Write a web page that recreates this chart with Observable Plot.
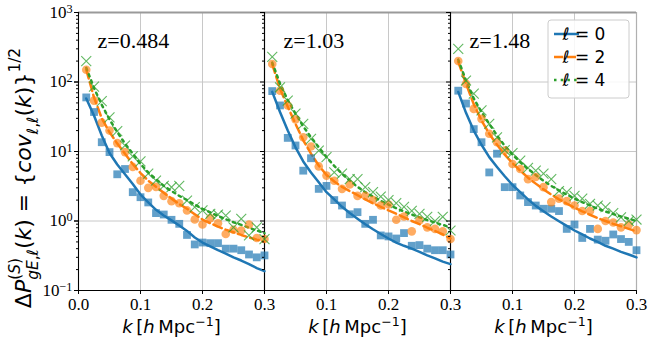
<!DOCTYPE html>
<html>
<head>
<meta charset="utf-8">
<script src="https://cdn.jsdelivr.net/npm/d3@7"></script>
<script src="https://cdn.jsdelivr.net/npm/@observablehq/plot@0.6"></script>
<style>
  body { margin: 0; background: #fff; }
  #chart { width: 654px; height: 340px; }
</style>
</head>
<body>
<div id="chart"></div>
<script>
// ---------- data ----------
const panels = ["z=0.484", "z=1.03", "z=1.48"];
const kValues = [0.0125, 0.025, 0.0375, 0.05, 0.0625, 0.075, 0.0875, 0.1, 0.1125, 0.125, 0.1375, 0.15,
                 0.1625, 0.175, 0.1875, 0.2, 0.2125, 0.225, 0.2375, 0.25, 0.2625, 0.275, 0.2875, 0.3];

// model curves (one array per panel)
const model0 = [
  [58, 33, 17, 9.5, 6.5, 4.7, 3.4, 2.4, 1.85, 1.45, 1.2, 1.02, 0.86, 0.72, 0.58, 0.49, 0.43, 0.38, 0.34, 0.30, 0.27, 0.24, 0.21, 0.19],
  [72, 37, 20, 11.5, 7.2, 5.0, 3.6, 2.6, 2.05, 1.6, 1.3, 1.08, 0.9, 0.76, 0.65, 0.56, 0.49, 0.44, 0.40, 0.36, 0.32, 0.29, 0.26, 0.24],
  [72, 36, 20, 12.5, 8.3, 6.0, 4.4, 3.3, 2.6, 2.05, 1.65, 1.38, 1.16, 0.99, 0.85, 0.73, 0.64, 0.56, 0.50, 0.44, 0.40, 0.36, 0.33, 0.30]
];
const model2 = [
  [150, 60, 30, 19, 13, 9.3, 6.6, 4.9, 3.8, 3.1, 2.55, 2.1, 1.75, 1.5, 1.25, 1.05, 0.93, 0.83, 0.75, 0.69, 0.63, 0.58, 0.54, 0.51],
  [180, 80, 44, 25, 14.5, 9.3, 6.3, 4.6, 3.7, 3.1, 2.7, 2.35, 2.05, 1.8, 1.6, 1.42, 1.27, 1.13, 1.0, 0.9, 0.8, 0.72, 0.64, 0.56],
  [195, 95, 48, 28, 18, 12.5, 9.0, 6.8, 5.3, 4.2, 3.45, 2.85, 2.4, 2.05, 1.78, 1.56, 1.38, 1.23, 1.1, 1.0, 0.91, 0.84, 0.77, 0.71]
];
const model4 = [
  [160, 82, 47, 29, 19, 13, 9.3, 6.6, 5.0, 4.0, 3.2, 2.7, 2.3, 2.0, 1.72, 1.5, 1.33, 1.18, 1.06, 0.96, 0.88, 0.80, 0.73, 0.67],
  [190, 95, 55, 35, 23, 16, 11.5, 8.3, 6.2, 4.8, 3.8, 3.1, 2.6, 2.25, 1.95, 1.72, 1.53, 1.37, 1.24, 1.13, 1.03, 0.95, 0.88, 0.81],
  [210, 105, 58, 37, 25, 17, 12, 9.0, 7.0, 5.6, 4.6, 3.8, 3.2, 2.75, 2.4, 2.1, 1.87, 1.67, 1.5, 1.37, 1.26, 1.16, 1.08, 1.0]
];

// simulation points (one array per panel)
const sim0 = [
  [60, 37, 13.6, 9.8, 4.7, 5.6, 2.6, 2.2, 1.85, 1.3, 1.24, 1.04, 0.91, 0.63, 0.46, 0.49, 0.48, 0.48, 0.40, 0.40, 0.38, 0.33, 0.30, 0.32],
  [74, 46, 15.7, 12.2, 5.3, 8.0, 2.9, 3.2, 2.0, 1.67, 1.25, 1.34, 0.91, 1.04, 0.62, 0.6, 0.56, 0.67, 0.44, 0.45, 0.40, 0.38, 0.38, 0.33],
  [75, 49, 21, 13.6, 5.0, 9.3, 3.07, 3.07, 2.33, 1.87, 1.67, 1.5, 1.5, 1.39, 0.77, 0.89, 0.57, 0.77, 0.54, 0.52, 0.64, 0.55, 0.50, 0.38]
];
const sim2 = [
  [150, 54, 26, 20, 13.2, 9.8, 6.0, 3.8, 3.0, 3.1, 2.3, 1.93, 1.8, 1.42, 1.05, 0.89, 1.10, 0.93, 0.65, 0.75, 0.73, 0.89, 0.57, 0.55],
  [182, 75, 46, 29, 16, 11.8, 6.1, 4.5, 3.8, 2.9, 3.35, 2.3, 2.3, 2.0, 1.67, 1.73, 1.04, 1.16, 0.71, 1.02, 0.81, 0.77, 0.71, 0.55],
  [200, 94, 41, 29.5, 18, 13.6, 10.3, 6.6, 5.6, 4.0, 4.3, 3.07, 1.87, 2.1, 1.93, 1.67, 1.39, 1.39, 0.77, 1.0, 0.95, 0.81, 0.88, 0.74]
];
const sim4 = [
  [200, 86, 53, 31, 19.6, 12.2, 8.5, 7.2, 4.8, 3.8, 3.2, 3.06, 3.2, 1.97, 1.58, 1.42, 1.27, 1.24, 1.2, 0.81, 1.07, 0.62, 0.81, 0.55],
  [230, 84, 54, 35, 25, 15.2, 10.3, 8.3, 5.0, 4.8, 4.0, 4.0, 3.07, 2.6, 2.25, 2.0, 1.81, 1.6, 1.4, 1.27, 1.15, 1.0, 1.15, 0.73],
  [300, 105, 68, 39, 25, 16, 10.5, 9.5, 7.4, 5.8, 5.3, 4.8, 4.0, 2.7, 2.6, 2.3, 2.1, 1.77, 1.67, 1.58, 1.3, 1.13, 1.0, 1.05]
];

const xTicks = [0, 0.1, 0.2, 0.3];
const yMajor = [0.1, 1, 10, 100, 1000];
const yMinor = [0.1, 1, 10, 100].flatMap(d => [2, 3, 4, 5, 6, 7, 8, 9].map(m => +(m * d).toPrecision(3)));
const legendLabels = ["\u2113 = 0", "\u2113 = 2", "\u2113 = 4"];
const colors = ["#1f77b4", "#ff7f0e", "#2ca02c"];

// ---------- tidy tables ----------
const rows = series => panels.flatMap((p, j) => kValues.map((k, i) => ({panel: p, k, v: series[j][i]})));

const serif = "'Liberation Serif', 'Times New Roman', serif";
const sans = "'DejaVu Sans', sans-serif";

const plot = Plot.plot({
  width: 654,
  height: 340,
  marginLeft: 77,
  marginRight: 17,
  marginTop: 12,
  marginBottom: 50,
  style: {background: "white", color: "black"},
  fx: {domain: panels, padding: 0, axis: null},
  x: {domain: [0, 0.3], axis: null},
  y: {type: "log", domain: [0.1, 1000], axis: null},
  marks: [
    Plot.gridX([0.1, 0.2], {stroke: "#c8c8c8", strokeOpacity: 1, strokeWidth: 1}),
    Plot.gridY([1, 10, 100], {stroke: "#c8c8c8", strokeOpacity: 1, strokeWidth: 1}),
    Plot.ruleY([1000], {stroke: "#9a9a9a", strokeWidth: 2}),
    Plot.ruleX([0.3], {stroke: "#b0b0b0", strokeWidth: 1.2}),
    Plot.ruleX([0], {stroke: "black", strokeWidth: 1.1}),
    Plot.ruleY([0.1], {stroke: "black", strokeWidth: 1.1}),
    // model curves
    Plot.line(rows(model0), {fx: "panel", x: "k", y: "v", stroke: colors[0], strokeWidth: 2.5}),
    Plot.line(rows(model2), {fx: "panel", x: "k", y: "v", stroke: colors[1], strokeWidth: 2.5, strokeDasharray: "9,4"}),
    Plot.line(rows(model4), {fx: "panel", x: "k", y: "v", stroke: colors[2], strokeWidth: 2.5, strokeDasharray: "2.5,4.2"}),
    // simulation points
    Plot.dot(rows(sim0), {fx: "panel", x: "k", y: "v", symbol: "square", fill: colors[0], fillOpacity: 0.7, r: 4.4}),
    Plot.dot(rows(sim2), {fx: "panel", x: "k", y: "v", symbol: "circle", fill: colors[1], fillOpacity: 0.65, r: 4.3}),
    Plot.dot(rows(sim4), {fx: "panel", x: "k", y: "v", symbol: "times", stroke: colors[2], strokeOpacity: 0.75, strokeWidth: 1.1, fill: "none", r: 4.6}),
    // axes
    Plot.axisX({ticks: xTicks, tickSize: 4, tickPadding: 3, tickFormat: d => d === 0 ? "" : d.toFixed(1), label: null}),
    Plot.axisX({ticks: [0], tickSize: 4, tickPadding: 3, tickFormat: d => d.toFixed(1), label: null, facetAnchor: "left"}),
    Plot.axisY({ticks: yMinor, tickSize: 2, tickFormat: () => "", label: null, facetAnchor: null}),
    Plot.axisY({ticks: yMajor, tickSize: 4, tickFormat: () => "", label: null, facetAnchor: null}),
    Plot.axisY({ticks: yMajor, tickSize: 4, tickPadding: 2, tickFormat: d => "10^" + Math.round(Math.log10(d)), label: null}),
    // panel annotations
    Plot.text(panels, {fx: d => d, text: d => d, frameAnchor: "top-left", textAnchor: "start", lineAnchor: "top",
                       dx: 19, dy: 20, fontFamily: serif, fontSize: 22, fill: "black"}),
    Plot.text(panels, {fx: d => d, text: () => "kMpcLabel", frameAnchor: "bottom", lineAnchor: "bottom",
                       dy: 42, fontFamily: sans, fontSize: 18, fill: "black"})
  ]
});

document.getElementById("chart").appendChild(plot);
const svg = d3.select(plot);

// rich text / fonts for tick labels and x labels
svg.selectAll("text").each(function () {
  const t = this.textContent;
  const m = /^10\^(-?\d+)$/.exec(t);
  if (m) {
    const e = m[1].replace("-", "\u2212");
    this.innerHTML = `10<tspan dy="-0.42em" font-size="72%">${e}</tspan>`;
    this.style.fontFamily = serif;
    this.style.fontSize = "17px";
    this.style.fill = "black";
  } else if (/^\d\.\d$/.test(t)) {
    this.style.fontFamily = serif;
    this.style.fontSize = "17px";
    this.style.fill = "black";
  } else if (t === "kMpcLabel") {
    this.innerHTML = `<tspan font-style="italic">k</tspan>\u2009[<tspan font-style="italic">h</tspan>\u2009Mpc<tspan font-size="70%" dy="-7">\u22121</tspan><tspan dy="7">]</tspan>`;
  }
});

// y-axis label (mathtext-like)
(function () {
  const base = 22;
  const txt = svg.append("text")
    .attr("transform", "translate(31,178) rotate(-90)")
    .attr("text-anchor", "middle")
    .attr("fill", "black")
    .style("font-family", sans)
    .style("font-size", base + "px");
  let cur = 0;
  const add = (t, {it = false, s = 1, b = 0} = {}) => {
    const ts = txt.append("tspan").text(t);
    if (it) ts.attr("font-style", "italic");
    if (s !== 1) ts.attr("font-size", (base * s) + "px");
    const target = b * base;
    if (target !== cur) { ts.attr("dy", target - cur); cur = target; }
    return ts;
  };
  add("\u0394");
  add("P", {it: true});
  const sup = [add("(", {s: .7, b: -.48}), add("S", {it: true, s: .7, b: -.48}), add(")", {s: .7, b: -.48})];
  const w = sup.reduce((a, n) => a + n.node().getComputedTextLength(), 0);
  add("gE", {it: true, s: .7, b: .3}).attr("dx", -w);
  add(",", {s: .7, b: .3});
  add("\u2113", {s: .7, b: .3});
  add("(");
  add("k", {it: true});
  add(") = {");
  add("cov", {it: true});
  add("\u2113,\u2113", {s: .7, b: .3});
  add("(");
  add("k", {it: true});
  add(")}");
  add("1/2", {s: .7, b: -.48});
})();

// legend
(function () {
  const g = svg.append("g").style("font-family", sans).style("font-size", "17px");
  g.append("rect").attr("x", 548).attr("y", 20).attr("width", 81).attr("height", 78).attr("rx", 3)
    .attr("fill", "white").attr("fill-opacity", 0.85).attr("stroke", "#cccccc");
  const dashes = [null, "9,4", "2.5,4.2"];
  legendLabels.forEach((lab, i) => {
    const y = 34 + i * 23;
    g.append("line").attr("x1", 554).attr("x2", 579).attr("y1", y).attr("y2", y)
      .attr("stroke", colors[i]).attr("stroke-width", 2.5).attr("stroke-dasharray", dashes[i]);
    g.append("text").attr("x", 584).attr("y", y + 6).attr("fill", "black").text(lab);
  });
})();
</script>
</body>
</html>
